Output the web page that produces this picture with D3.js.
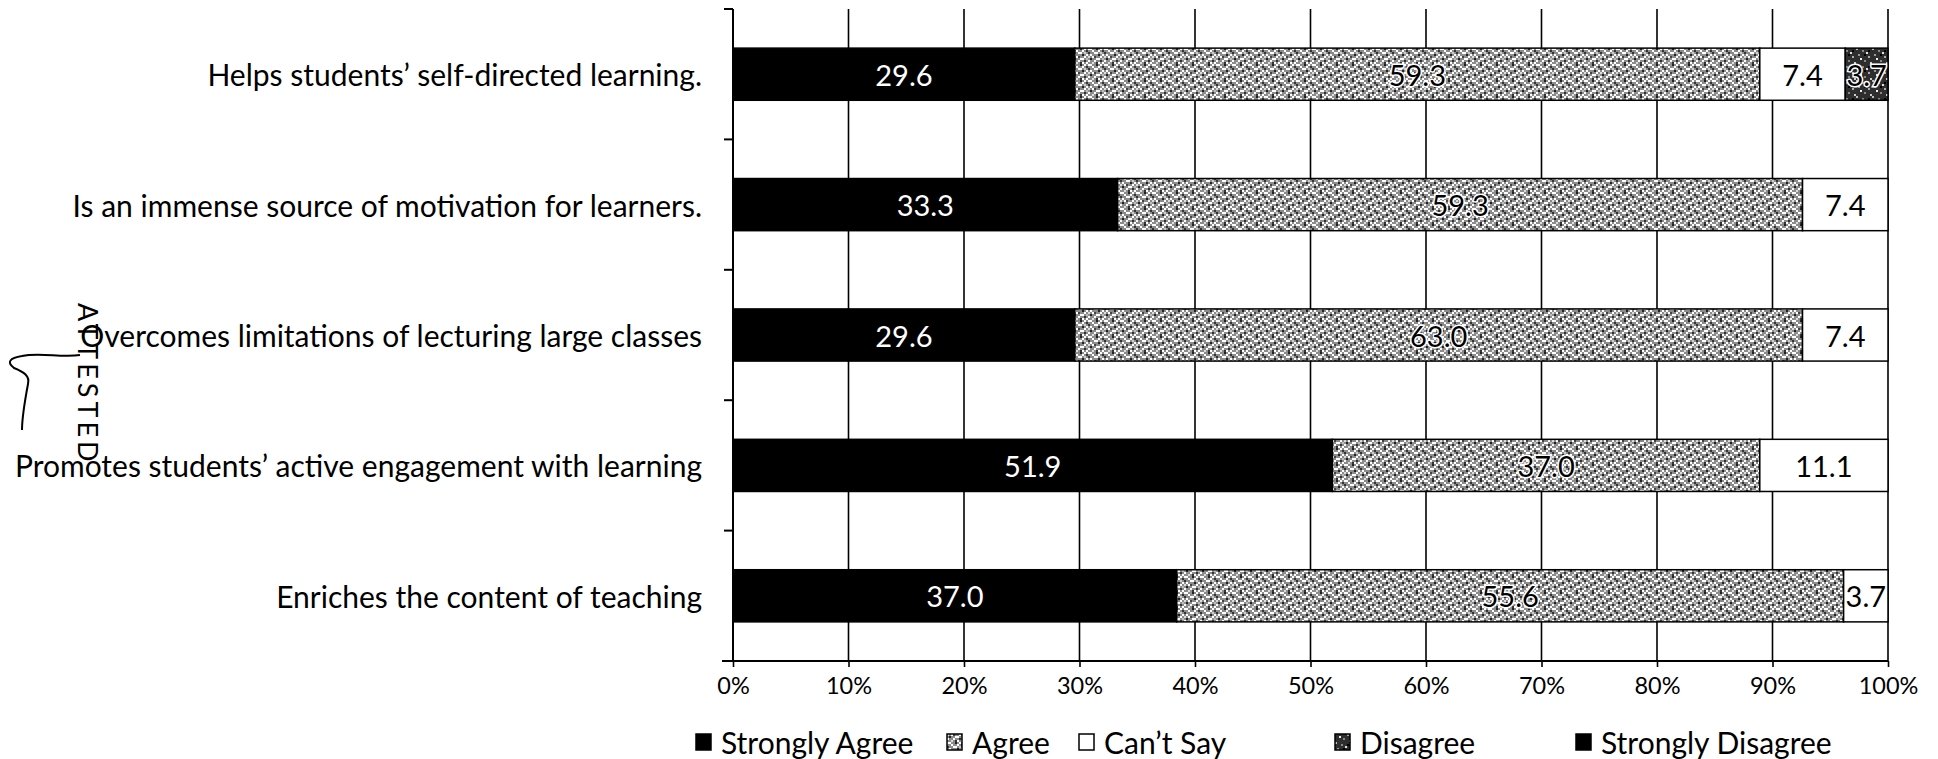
<!DOCTYPE html>
<html>
<head>
<meta charset="utf-8">
<script src="https://cdn.jsdelivr.net/npm/d3@7"></script>
<style>
	body { margin: 0; background: #fff; }
	text { font-family: Lato, "Open Sans", sans-serif; fill: #000; }
</style>
</head>
<body>
<script>

let width = 1938;
let height = 759;

let margins = {
	top: 9,
	right: 50,
	bottom: 98,
	left: 733
};

// Statements (top to bottom)
let categories = [
	"Helps students\u2019 self-directed learning.",
	"Is an immense source of motivation for learners.",
	"Overcomes limitations of lecturing large classes",
	"Promotes students\u2019 active engagement with learning",
	"Enriches the content of teaching"
];

// Percent of respondents per answer
let stronglyAgree    = [29.6, 33.3, 29.6, 51.9, 37.0];
let agree            = [59.3, 59.3, 63.0, 37.0, 55.6];
let cantSay          = [7.4, 7.4, 7.4, 11.1, 3.7];
let disagree         = [3.7, 0, 0, 0, 0];
let stronglyDisagree = [0, 0, 0, 0, 0];

let xTicks = [0, 0.1, 0.2, 0.3, 0.4, 0.5, 0.6, 0.7, 0.8, 0.9, 1];

let series = [
	{title: "Strongly Agree", values: stronglyAgree, fill: "#000", label: "#fff"},
	{title: "Agree", values: agree, fill: "url(#agreeTex)", label: "#000"},
	{title: "Can\u2019t Say", values: cantSay, fill: "#fff", label: "#000"},
	{title: "Disagree", values: disagree, fill: "url(#disTex)", label: "#000"},
	{title: "Strongly Disagree", values: stronglyDisagree, fill: "#000", label: "#fff"}
];

// 100% stacked: every row is scaled to its own total
let rows = categories.map((c, i) => {
	let total = d3.sum(series, s => s.values[i]);
	let acc = 0;
	return series.map(s => {
		let v = s.values[i];
		let seg = {cat: c, value: v, x0: acc / total, x1: (acc + v) / total, s: s};
		acc += v;
		return seg;
	});
});

let xScale = d3.scaleLinear()
	.range([margins.left, width - margins.right])
	.domain([0, 1]);

let yScale = d3.scaleBand()
	.range([margins.top, height - margins.bottom])
	.domain(categories)
	.paddingInner(0.6)
	.paddingOuter(0.3);

let svg = d3.select("body")
	.append("svg")
		.attr("width", width)
		.attr("height", height);

svg.append("rect").attr("width", width).attr("height", height).attr("fill", "#fff");

// Scanned-looking textures (fixed speckle cells, 2px each)
let defs = svg.append("defs");
function texture(id, base, cells) {
	let p = defs.append("pattern")
		.attr("id", id)
		.attr("patternUnits", "userSpaceOnUse")
		.attr("width", 16).attr("height", 16);
	p.append("rect").attr("width", 16).attr("height", 16).attr("fill", base);
	cells.forEach(c => {
		p.append("rect").attr("x", c[0] * 2).attr("y", c[1] * 2).attr("width", 2).attr("height", 2).attr("fill", c[2]);
	});
}
texture("agreeTex", "#8c8c8c", [
	[0, 0, "#fff"], [1, 0, "#fff"], [4, 0, "#222"], [6, 0, "#fff"],
	[2, 1, "#fff"], [5, 1, "#fff"], [7, 1, "#333"],
	[0, 2, "#333"], [3, 2, "#fff"], [4, 2, "#fff"], [6, 2, "#ccc"],
	[1, 3, "#fff"], [5, 3, "#222"], [7, 3, "#fff"],
	[2, 4, "#fff"], [3, 4, "#444"], [6, 4, "#fff"], [0, 4, "#ddd"],
	[1, 5, "#222"], [4, 5, "#fff"], [5, 5, "#fff"], [7, 5, "#bbb"],
	[0, 6, "#fff"], [3, 6, "#fff"], [6, 6, "#333"],
	[2, 7, "#ddd"], [4, 7, "#333"], [5, 7, "#fff"], [7, 7, "#fff"]
]);
texture("disTex", "#2e2e2e", [
	[0, 0, "#bbb"], [3, 1, "#888"], [5, 2, "#ddd"], [1, 3, "#999"], [6, 4, "#aaa"],
	[2, 5, "#eee"], [4, 6, "#888"], [7, 7, "#ccc"], [4, 3, "#000"], [6, 1, "#000"]
]);

// Gridlines
svg.append("g")
	.selectAll("line")
	.data(xTicks.slice(1))
	.enter().append("line")
		.attr("x1", d => xScale(d)).attr("x2", d => xScale(d))
		.attr("y1", margins.top).attr("y2", height - margins.bottom)
		.attr("stroke", "#000")
		.attr("stroke-width", 1.6);

// Bars
let rowG = svg.append("g")
	.selectAll("g")
	.data(rows)
	.enter().append("g");

rowG.selectAll("rect")
	.data(d => d.filter(s => s.value > 0))
	.enter().append("rect")
		.attr("x", d => xScale(d.x0))
		.attr("y", d => yScale(d.cat))
		.attr("width", d => xScale(d.x1) - xScale(d.x0))
		.attr("height", yScale.bandwidth())
		.attr("fill", d => d.s.fill)
		.attr("stroke", "#000")
		.attr("stroke-width", 1.5);

rowG.selectAll("text")
	.data(d => d.filter(s => s.value > 0))
	.enter().append("text")
		.attr("x", d => (xScale(d.x0) + xScale(d.x1)) / 2)
		.attr("y", d => yScale(d.cat) + yScale.bandwidth() / 2)
		.attr("text-anchor", "middle")
		.attr("dominant-baseline", "central")
		.style("font-size", "29px")
		.style("fill", d => d.s.label)
		.style("paint-order", "stroke")
		.style("stroke", d => d.s.label === "#fff" ? "#000" : "#fff")
		.style("stroke-width", d => d.s.fill === "#fff" ? 0 : 3)
		.text(d => d3.format(".1f")(d.value));

// Category labels
svg.append("g")
	.selectAll("text")
	.data(categories)
	.enter().append("text")
		.attr("x", margins.left - 31)
		.attr("y", d => yScale(d) + yScale.bandwidth() / 2)
		.attr("text-anchor", "end")
		.attr("dominant-baseline", "central")
		.style("font-size", "30px")
		.text(d => d);

// y axis with ticks between categories
let yBounds = categories.map(c => yScale(c) - yScale.step() * yScale.paddingInner() / 2)
	.concat([height - margins.bottom]);
svg.append("line")
	.attr("x1", margins.left).attr("x2", margins.left)
	.attr("y1", margins.top).attr("y2", height - margins.bottom)
	.attr("stroke", "#000").attr("stroke-width", 2);
svg.append("g")
	.selectAll("line")
	.data(yBounds)
	.enter().append("line")
		.attr("x1", margins.left - 9).attr("x2", margins.left)
		.attr("y1", d => d).attr("y2", d => d)
		.attr("stroke", "#000").attr("stroke-width", 2);

// x axis
let xAxis = d3.axisBottom(xScale)
	.tickValues(xTicks)
	.tickFormat(d3.format(".0%"))
	.tickSizeInner(6)
	.tickSizeOuter(0)
	.tickPadding(10);

let xg = svg.append("g")
	.attr("class", "x axis")
	.attr("transform", "translate(0," + (height - margins.bottom) + ")")
	.call(xAxis);
xg.select(".domain").attr("stroke", "#000").attr("stroke-width", 2)
	.attr("d", "M" + (margins.left - 11) + ",0H" + (width - margins.right));
xg.selectAll(".tick line").attr("stroke", "#000").attr("stroke-width", 1.6);
xg.selectAll(".tick text").style("font-size", "23.5px").style("font-family", "Lato, sans-serif").attr("fill", "#000");

// Legend (entry starts as laid out in the original)
let legendX = [696, 947, 1079, 1335, 1576];
let ly = 742;
let legend = svg.append("g")
	.attr("class", "legend")
	.selectAll("g")
	.data(series)
	.enter().append("g")
		.attr("transform", (d, i) => "translate(" + legendX[i] + "," + ly + ")");

legend.append("rect")
	.attr("y", -8)
	.attr("width", 15).attr("height", 16)
	.attr("fill", d => d.fill)
	.attr("stroke", "#000").attr("stroke-width", 1.5);

legend.append("text")
	.attr("x", 25)
	.attr("dominant-baseline", "central")
	.style("font-size", "30px")
	.text(d => d.title);

// Scan stamp in the left margin
svg.append("text")
	.attr("transform", "translate(78,303) rotate(90)")
	.style("font-size", "27px")
	.style("letter-spacing", "4px")
	.text("ATTESTED");
svg.append("path")
	.attr("d", "M80,355 C62,358 40,352 22,356 C10,358 6,362 14,368 C24,372 30,376 28,384 C25,400 22,420 22,430")
	.attr("fill", "none")
	.attr("stroke", "#000")
	.attr("stroke-width", 2);

</script>
</body>
</html>
